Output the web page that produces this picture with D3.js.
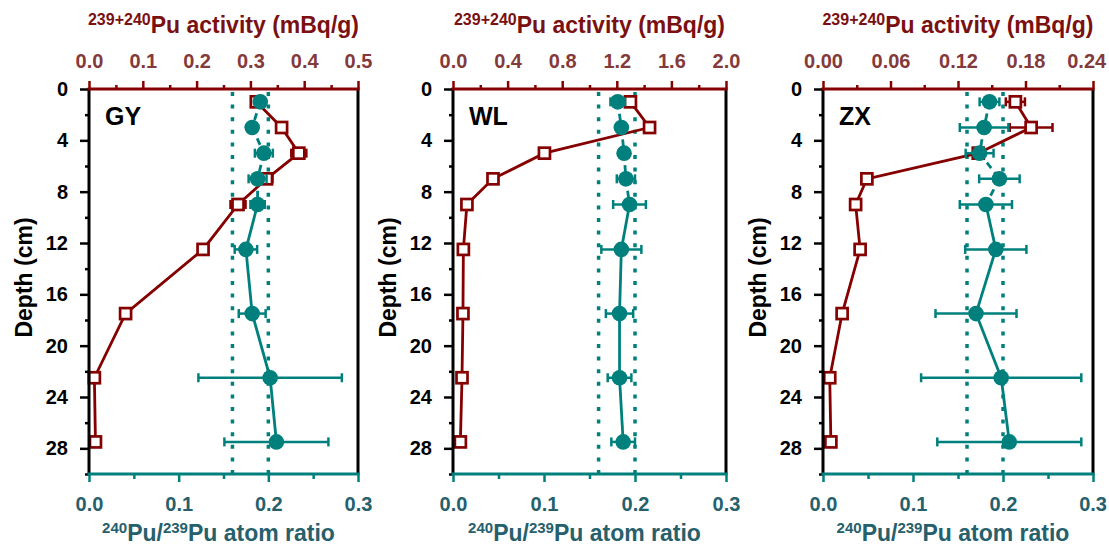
<!DOCTYPE html>
<html>
<head>
<meta charset="utf-8">
<script src="https://cdn.jsdelivr.net/npm/d3@7"></script>
<style>
  html, body { margin: 0; padding: 0; background: #ffffff; }
  svg { display: block; }
  text { font-family: "Liberation Sans", Arial, Helvetica, sans-serif; font-weight: bold; }
</style>
</head>
<body>
<svg id="chart" width="1109" height="546"></svg>
<script>
// Sampling depths (cm) shared by all three cores
const depths = [1, 3, 5, 7, 9, 12.5, 17.5, 22.5, 27.5];

// GY core
const gyActivity    = [0.311, 0.358, 0.390, 0.330, 0.277, 0.212, 0.068, 0.010, 0.012];
const gyActivityErr = [0.004, 0.003, 0.014, 0.011, 0.014, 0.004, 0.003, 0.003, 0.003];
const gyRatio       = [0.191, 0.182, 0.195, 0.188, 0.188, 0.175, 0.182, 0.202, 0.209];
const gyRatioErr    = [0.004, 0.004, 0.010, 0.010, 0.008, 0.0125, 0.015, 0.080, 0.058];

// WL core
const wlActivity    = [1.30, 1.44, 0.67, 0.293, 0.102, 0.076, 0.073, 0.066, 0.054];
const wlActivityErr = [0.02, 0.02, 0.03, 0.03, 0.02, 0.02, 0.02, 0.02, 0.02];
const wlRatio       = [0.181, 0.185, 0.188, 0.190, 0.194, 0.185, 0.183, 0.183, 0.187];
const wlRatioErr    = [0.008, 0.004, 0.004, 0.010, 0.018, 0.022, 0.015, 0.013, 0.013];

// ZX core
const zxActivity    = [0.171, 0.185, 0.138, 0.039, 0.029, 0.033, 0.017, 0.006, 0.007];
const zxActivityErr = [0.0085, 0.019, 0.004, 0.002, 0.002, 0.002, 0.002, 0.001, 0.002];
const zxRatio       = [0.185, 0.179, 0.174, 0.196, 0.181, 0.192, 0.170, 0.198, 0.207];
const zxRatioErr    = [0.011, 0.027, 0.0155, 0.0225, 0.029, 0.034, 0.045, 0.089, 0.080];

// Axis ticks
const depthTicks      = [0, 4, 8, 12, 16, 20, 24, 28];
const depthMinorTicks = [2, 6, 10, 14, 18, 22, 26, 30];
const ratioTicks      = [0.0, 0.1, 0.2, 0.3];
const ratioMinorTicks = [0.05, 0.15, 0.25];
const gyActivityTicks = [0.0, 0.1, 0.2, 0.3, 0.4, 0.5];
const wlActivityTicks = [0.0, 0.4, 0.8, 1.2, 1.6, 2.0];
const zxActivityTicks = [0.00, 0.06, 0.12, 0.18, 0.24];

// Global fallout 240Pu/239Pu range
const ratioRefLines = [0.16, 0.20];

const siteNames = ["GY", "WL", "ZX"];

const C = {
  red: "#850000",
  redTitle: "#7a1010",
  redTick: "#843a3a",
  teal: "#00807d",
  tealText: "#25606c",
  black: "#000000"
};

const panels = [
  { name: siteNames[0], left: 89,  right: 358,  act: gyActivity, actErr: gyActivityErr, ratio: gyRatio, ratioErr: gyRatioErr, actTicks: gyActivityTicks, fmt: d3.format(".1f") },
  { name: siteNames[1], left: 453, right: 726,  act: wlActivity, actErr: wlActivityErr, ratio: wlRatio, ratioErr: wlRatioErr, actTicks: wlActivityTicks, fmt: d3.format(".1f") },
  { name: siteNames[2], left: 823, right: 1093, act: zxActivity, actErr: zxActivityErr, ratio: zxRatio, ratioErr: zxRatioErr, actTicks: zxActivityTicks, fmt: d3.format(".2f") }
];

const plotTop = 89, plotBottom = 474;
const svgWidth = 1109;
const svg = d3.select("#chart");

const y = d3.scaleLinear().domain([0, 30]).range([plotTop, plotBottom]);

// keep tick labels inside the drawing area
function keepInside(sel) {
  sel.each(function () {
    const b = this.getBBox();
    const m = this.getScreenCTM();
    const right = m.e + b.x + b.width;
    if (right > svgWidth - 2) d3.select(this).attr("dx", -(right - (svgWidth - 2)));
  });
}

panels.forEach(p => {
  const g = svg.append("g");
  const actMax = p.actTicks[p.actTicks.length - 1];
  const xAct = d3.scaleLinear().domain([0, actMax]).range([p.left, p.right]);
  const xRat = d3.scaleLinear().domain([0, 0.3]).range([p.left, p.right]);
  const actMinor = d3.pairs(p.actTicks).map(([a, b]) => (a + b) / 2);

  // reference ratio lines
  g.selectAll(".ref").data(ratioRefLines).join("line")
    .attr("x1", d => xRat(d)).attr("x2", d => xRat(d))
    .attr("y1", y(0) + 3).attr("y2", y(30) - 1)
    .attr("stroke", C.teal).attr("stroke-width", 3.5)
    .attr("stroke-dasharray", "4,8.6");

  // activity profile
  const pts = depths.map((d, i) => ({ d, v: p.act[i], e: p.actErr[i] }));
  g.append("path").datum(pts)
    .attr("d", d3.line().x(q => xAct(q.v)).y(q => y(q.d)))
    .attr("fill", "none").attr("stroke", C.red).attr("stroke-width", 2.8);

  const aErr = g.selectAll(".aerr").data(pts).join("g");
  aErr.append("line")
    .attr("x1", q => xAct(q.v - q.e)).attr("x2", q => xAct(q.v + q.e))
    .attr("y1", q => y(q.d)).attr("y2", q => y(q.d))
    .attr("stroke", C.red).attr("stroke-width", 2.5);
  [-1, 1].forEach(s => {
    aErr.append("line")
      .attr("x1", q => xAct(q.v + s * q.e)).attr("x2", q => xAct(q.v + s * q.e))
      .attr("y1", q => y(q.d) - 4.5).attr("y2", q => y(q.d) + 4.5)
      .attr("stroke", C.red).attr("stroke-width", 2.5);
  });
  g.selectAll(".sq").data(pts).join("rect")
    .attr("x", q => xAct(q.v) - 5.5).attr("y", q => y(q.d) - 5.5)
    .attr("width", 11).attr("height", 11)
    .attr("fill", "#ffffff").attr("stroke", C.red).attr("stroke-width", 2.7);

  // atom ratio profile
  const rp = depths.map((d, i) => ({ d, v: p.ratio[i], e: p.ratioErr[i] }));
  g.selectAll(".seg").data(d3.pairs(rp)).join("line")
    .attr("x1", ([a]) => xRat(a.v)).attr("y1", ([a]) => y(a.d))
    .attr("x2", ([, b]) => xRat(b.v)).attr("y2", ([, b]) => y(b.d))
    .attr("stroke", C.teal).attr("stroke-width", 2.8)
    .attr("stroke-dasharray", ([, b]) => b.d <= 9 ? "7,5" : null);

  const rErr = g.selectAll(".rerr").data(rp).join("g");
  rErr.append("line")
    .attr("x1", q => xRat(q.v - q.e)).attr("x2", q => xRat(q.v + q.e))
    .attr("y1", q => y(q.d)).attr("y2", q => y(q.d))
    .attr("stroke", C.teal).attr("stroke-width", 2.5);
  [-1, 1].forEach(s => {
    rErr.append("line")
      .attr("x1", q => xRat(q.v + s * q.e)).attr("x2", q => xRat(q.v + s * q.e))
      .attr("y1", q => y(q.d) - 4.5).attr("y2", q => y(q.d) + 4.5)
      .attr("stroke", C.teal).attr("stroke-width", 2.5);
  });
  g.selectAll(".dot").data(rp).join("circle")
    .attr("cx", q => xRat(q.v)).attr("cy", q => y(q.d)).attr("r", 7.8)
    .attr("fill", C.teal);

  // frame: right border
  g.append("line").attr("x1", p.right).attr("x2", p.right)
    .attr("y1", plotTop).attr("y2", plotBottom)
    .attr("stroke", C.black).attr("stroke-width", 3);

  // left depth axis
  const leftMinor = g.append("g").attr("transform", `translate(${p.left},0)`)
    .call(d3.axisLeft(y).tickValues(depthMinorTicks).tickSize(4).tickFormat("").tickSizeOuter(0));
  leftMinor.selectAll(".tick line").attr("stroke", C.black).attr("stroke-width", 2.5);
  const leftMajor = g.append("g").attr("transform", `translate(${p.left},0)`)
    .call(d3.axisLeft(y).tickValues(depthTicks).tickSize(9).tickPadding(12).tickSizeOuter(0).tickFormat(d3.format("d")));
  leftMajor.selectAll(".tick line").attr("stroke", C.black).attr("stroke-width", 2.5);
  leftMajor.selectAll(".tick text").attr("fill", C.black).attr("font-size", 20).attr("font-family", null);
  leftMinor.select(".domain").remove();
  leftMajor.select(".domain").remove();
  g.append("line").attr("x1", p.left).attr("x2", p.left)
    .attr("y1", plotTop - 1).attr("y2", plotBottom)
    .attr("stroke", C.black).attr("stroke-width", 3);

  // top activity axis
  const topMinor = g.append("g").attr("transform", `translate(0,${plotTop})`)
    .call(d3.axisTop(xAct).tickValues(actMinor).tickSize(4).tickFormat("").tickSizeOuter(0));
  topMinor.selectAll(".tick line").attr("stroke", C.red).attr("stroke-width", 2.5);
  const topMajor = g.append("g").attr("transform", `translate(0,${plotTop})`)
    .call(d3.axisTop(xAct).tickValues(p.actTicks).tickSize(8).tickPadding(13).tickSizeOuter(0).tickFormat(p.fmt));
  topMajor.selectAll(".tick line").attr("stroke", C.red).attr("stroke-width", 2.5);
  topMajor.selectAll(".tick text").attr("fill", C.redTick).attr("font-size", 20).attr("font-family", null)
    .call(keepInside);
  topMinor.select(".domain").remove();
  topMajor.select(".domain").remove();
  g.append("line").attr("x1", p.left - 1.5).attr("x2", p.right + 1.5)
    .attr("y1", plotTop).attr("y2", plotTop)
    .attr("stroke", C.red).attr("stroke-width", 3);

  // bottom ratio axis
  const botMinor = g.append("g").attr("transform", `translate(0,${plotBottom})`)
    .call(d3.axisBottom(xRat).tickValues(ratioMinorTicks).tickSize(5).tickFormat("").tickSizeOuter(0));
  botMinor.selectAll(".tick line").attr("stroke", C.teal).attr("stroke-width", 2.5);
  const botMajor = g.append("g").attr("transform", `translate(0,${plotBottom})`)
    .call(d3.axisBottom(xRat).tickValues(ratioTicks).tickSize(8).tickPadding(15).tickSizeOuter(0).tickFormat(d3.format(".1f")));
  botMajor.selectAll(".tick line").attr("stroke", C.teal).attr("stroke-width", 2.5);
  botMajor.selectAll(".tick text").attr("fill", C.tealText).attr("font-size", 20).attr("font-family", null)
    .call(keepInside);
  botMinor.select(".domain").remove();
  botMajor.select(".domain").remove();
  g.append("line").attr("x1", p.left - 1.5).attr("x2", p.right + 1.5)
    .attr("y1", plotBottom).attr("y2", plotBottom)
    .attr("stroke", C.teal).attr("stroke-width", 3);

  // site label
  g.append("text").attr("x", p.left + 16).attr("y", 125)
    .attr("font-size", 25).attr("fill", C.black).text(p.name);

  const cx = (p.left + p.right) / 2;

  // top title
  const tt = g.append("text").attr("x", cx).attr("y", 33)
    .attr("text-anchor", "middle").attr("fill", C.redTitle);
  tt.append("tspan").attr("font-size", 16).attr("dy", -8).text("239+240");
  tt.append("tspan").attr("font-size", 23).attr("dy", 8).text("Pu activity (mBq/g)");

  // bottom title
  const bt = g.append("text").attr("x", cx - 5).attr("y", 541)
    .attr("text-anchor", "middle").attr("fill", C.tealText);
  bt.append("tspan").attr("font-size", 15).attr("dy", -8).text("240");
  bt.append("tspan").attr("font-size", 23).attr("dy", 8).text("Pu/");
  bt.append("tspan").attr("font-size", 15).attr("dy", -8).text("239");
  bt.append("tspan").attr("font-size", 23).attr("dy", 8).text("Pu atom ratio");

  // depth title
  g.append("text")
    .attr("transform", `translate(${p.left - 57},${(plotTop + plotBottom) / 2 - 4}) rotate(-90)`)
    .attr("text-anchor", "middle").attr("font-size", 23).attr("fill", C.black)
    .text("Depth (cm)");
});
</script>
</body>
</html>
